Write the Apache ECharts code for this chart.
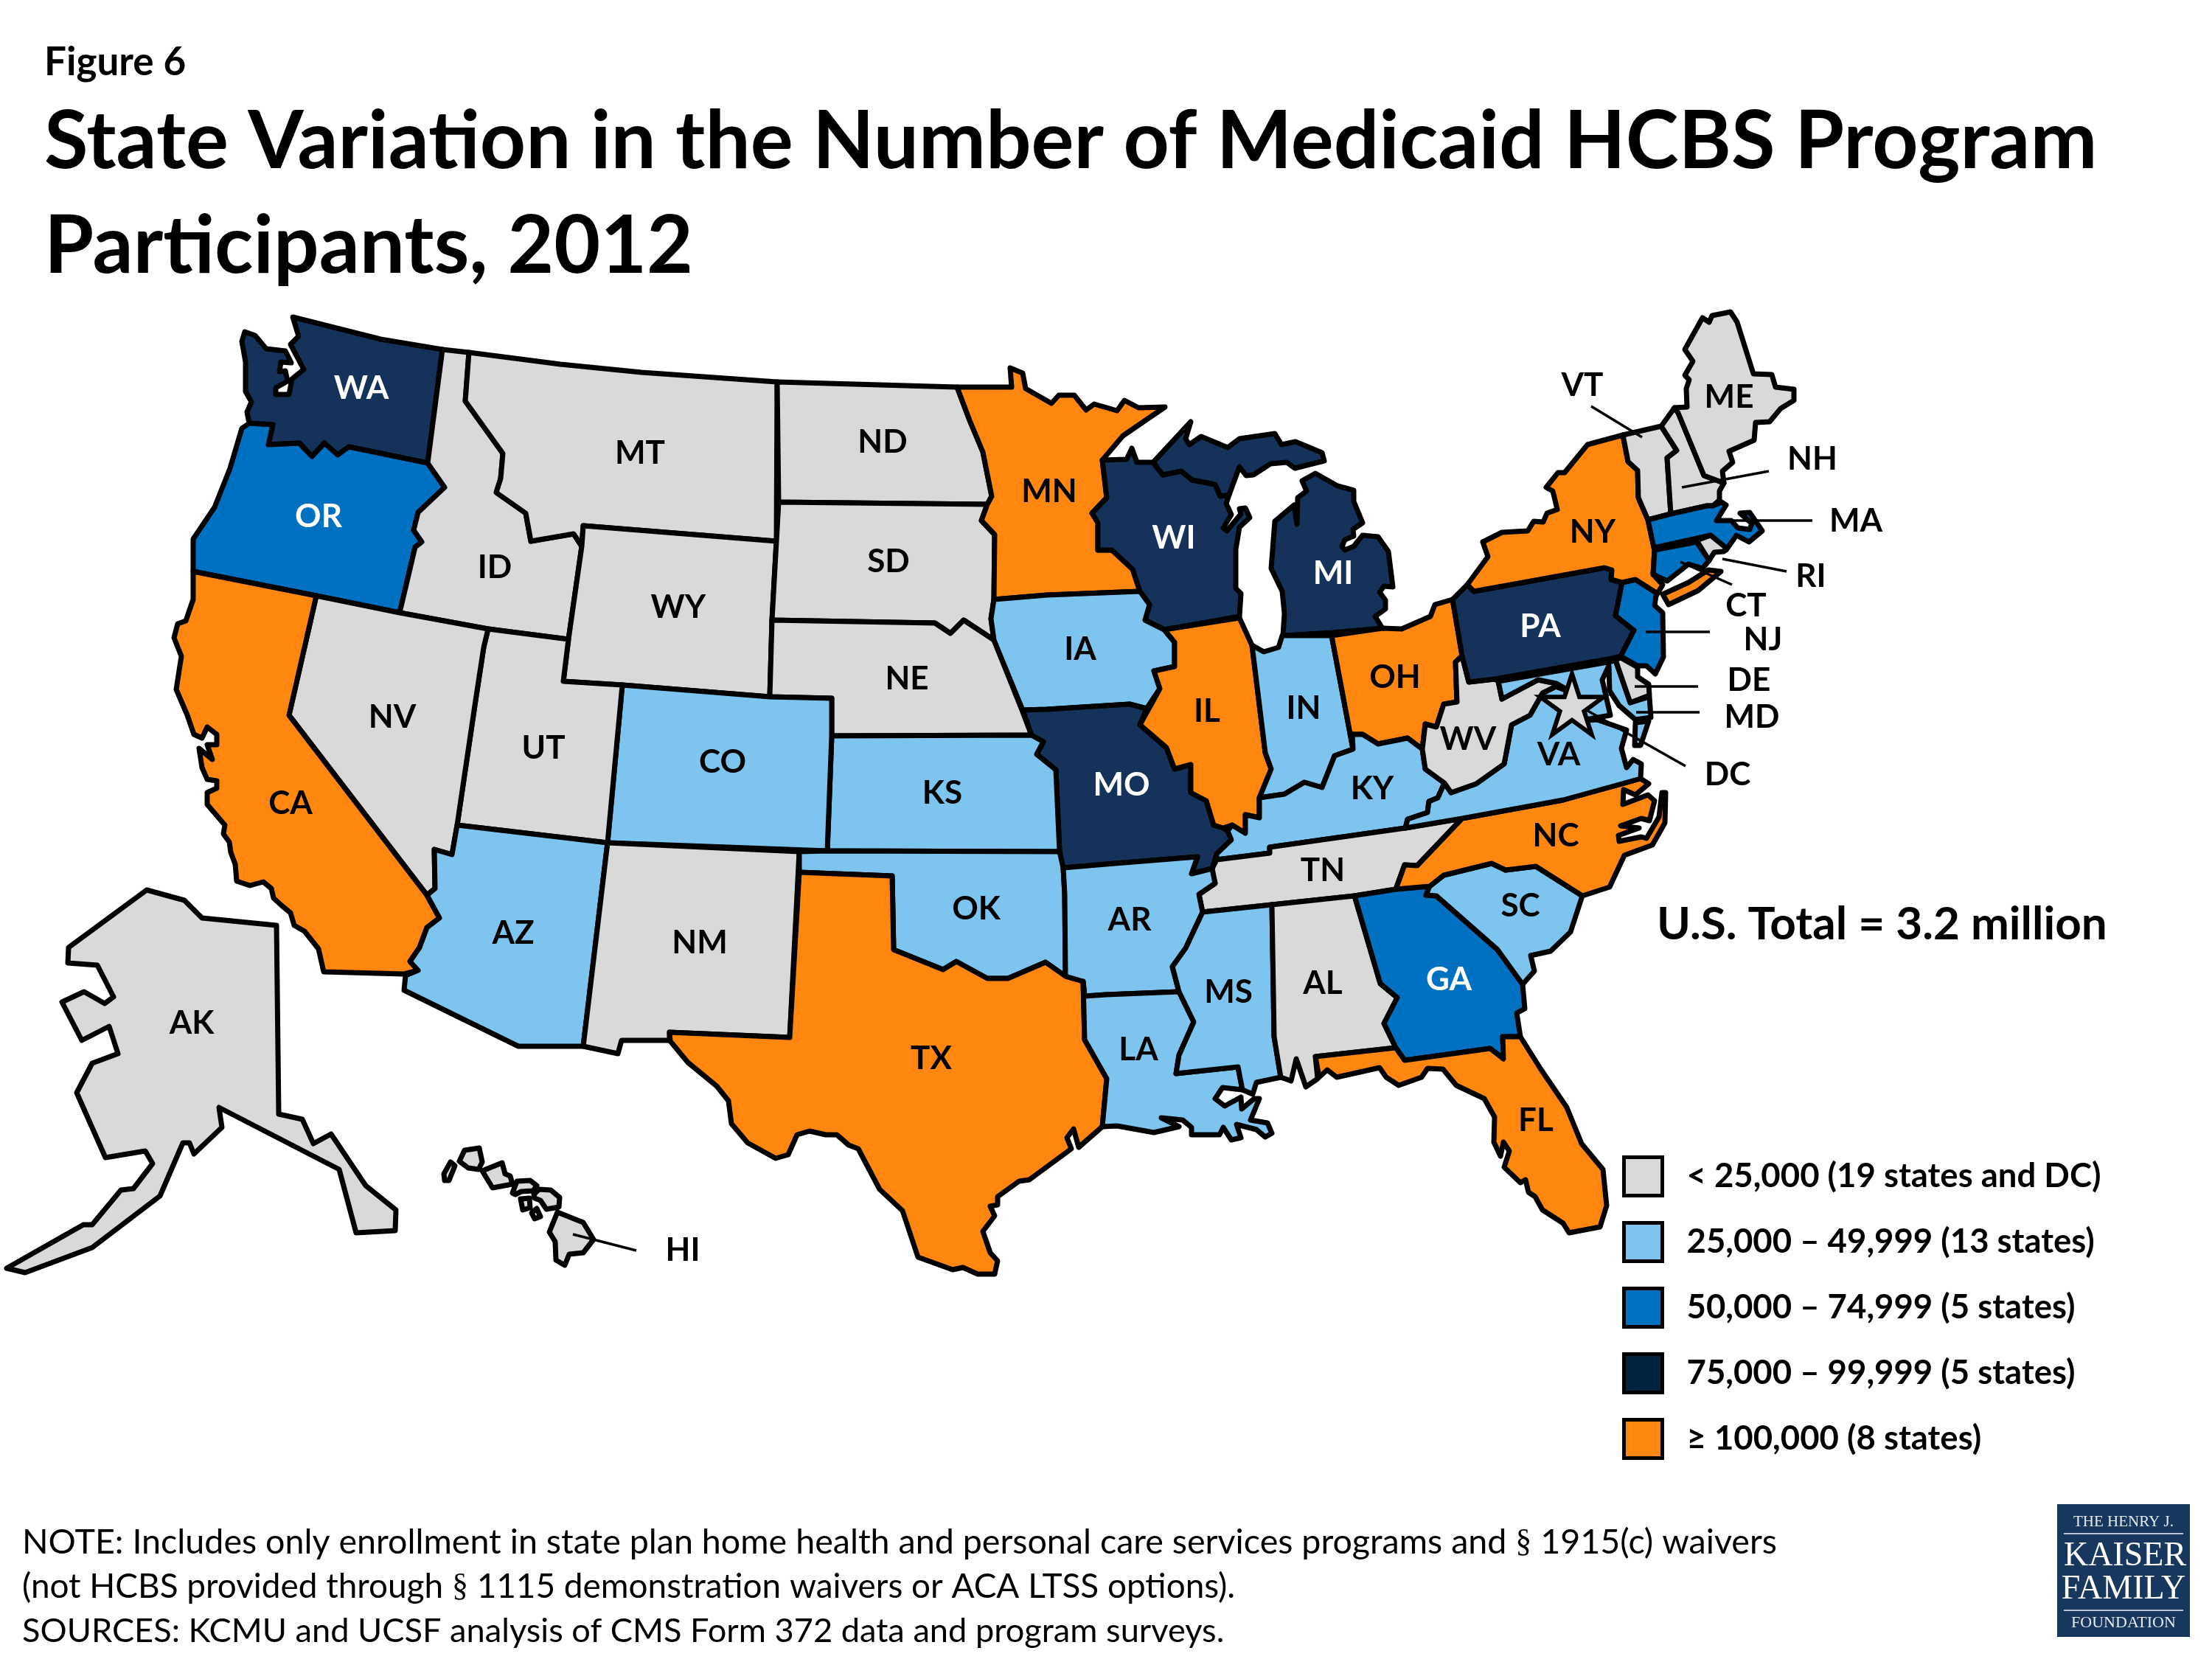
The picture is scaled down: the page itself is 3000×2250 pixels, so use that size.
<!DOCTYPE html>
<html>
<head>
<meta charset="utf-8">
<title>State Variation in the Number of Medicaid HCBS Program Participants, 2012</title>
<script src="https://cdn.jsdelivr.net/npm/echarts@6/dist/echarts.min.js"></script>
<style>
    html, body { margin: 0; padding: 0; background: #fff; }
    #hcbs_map { width: 3000px; height: 2250px; }
</style>
</head>
<body>
<div id="hcbs_map"></div>
<script>

// Data
// ------------------------------

var binNames = [
    '< 25,000 (19 states and DC)',
    '25,000 – 49,999 (13 states)',
    '50,000 – 74,999 (5 states)',
    '75,000 – 99,999 (5 states)',
    '≥ 100,000 (8 states)'
];
var binStates = [
    ['ID', 'MT', 'WY', 'ND', 'SD', 'NE', 'UT', 'NV', 'NM', 'TN', 'AL', 'WV', 'VT', 'NH', 'ME', 'RI', 'DE', 'AK', 'HI', 'DC'],
    ['CO', 'KS', 'OK', 'AZ', 'IA', 'AR', 'LA', 'MS', 'IN', 'KY', 'VA', 'SC', 'MD'],
    ['OR', 'GA', 'MA', 'CT', 'NJ'],
    ['WA', 'MO', 'WI', 'MI', 'PA'],
    ['CA', 'TX', 'MN', 'IL', 'OH', 'NY', 'NC', 'FL']
];
var regionColors = ['#D9D9D9', '#7DC5EE', '#0071C0', '#15335A', '#FF8710'];
var legendColors = ['#D9D9D9', '#7DC5EE', '#0071C0', '#03243F', '#FF8710'];
var labelColors = ['#000', '#000', '#fff', '#fff', '#000'];
var outsideLabels = ['MA', 'CT', 'NJ'];

var noteLines = [
    'NOTE: Includes only enrollment in state plan home health and personal care services programs and {s|§} 1915(c) waivers',
    '(not HCBS provided through {s|§} 1115 demonstration waivers or ACA LTSS options).',
    'SOURCES: KCMU and UCSF analysis of CMS Form 372 data and program surveys.'
];
var noteFontSizes = [46.6, 45.9, 45.2];


// Map geometry, in the units of the 3000 x 2250 page
// ------------------------------

var stateOutlines = {
    WA: [[[397,430],[405,456],[394,467],[412,501],[396,514],[392,535],[374,535],[374,526],[390,517],[387,503],[379,504],[381,491],[395,492],[387,476],[361,473],[346,455],[332,450],[328,463],[333,491],[333,531],[341,545],[335,559],[338,574],[370,576],[364,603],[406,601],[423,619],[440,601],[458,617],[473,606],[580,628],[600,474],[516,460]]],
    OR: [[[338,574],[328,581],[312,635],[291,688],[262,731],[262,775],[429,808],[542,831],[563,742],[572,735],[561,719],[567,695],[603,661],[580,628],[473,606],[458,617],[440,601],[423,619],[406,601],[364,603],[370,576]]],
    ID: [[[600,474],[636,478],[631,544],[682,615],[679,649],[673,668],[713,696],[720,734],[778,724],[789,741],[771,867],[662,853],[542,831],[563,742],[572,735],[561,719],[567,695],[603,661],[580,628]]],
    MT: [[[636,478],[760,494],[870,505],[1054,518],[1053,734],[791,713],[789,741],[778,724],[720,734],[713,696],[673,668],[679,649],[682,615],[631,544]]],
    WY: [[[791,713],[1053,734],[1047,841],[1044,945],[844,929],[764,924],[771,867],[789,741]]],
    ND: [[[1054,518],[1298,525],[1315,570],[1333,613],[1345,673],[1339,684],[1056,681]]],
    SD: [[[1056,681],[1339,684],[1331,706],[1349,725],[1348,813],[1344,839],[1348,868],[1307,841],[1289,859],[1268,845],[1047,841],[1053,734]]],
    NE: [[[1047,841],[1268,845],[1289,859],[1307,841],[1348,868],[1386,963],[1399,997],[1128,998],[1128,947],[1044,945]]],
    MN: [[[1298,525],[1372,525],[1370,499],[1387,506],[1391,527],[1426,547],[1436,536],[1457,536],[1473,556],[1484,548],[1515,557],[1525,543],[1544,553],[1580,552],[1523,591],[1495,624],[1501,675],[1481,696],[1489,709],[1489,746],[1508,746],[1536,772],[1546,802],[1420,807],[1348,813],[1349,725],[1331,706],[1339,684],[1345,673],[1333,613],[1315,570]]],
    WI: [[[1495,624],[1528,623],[1535,608],[1542,627],[1564,627],[1577,644],[1602,639],[1617,651],[1648,657],[1655,673],[1667,671],[1663,683],[1670,698],[1659,716],[1664,720],[1683,697],[1681,690],[1689,689],[1695,702],[1681,715],[1676,745],[1676,798],[1683,805],[1681,836],[1579,854],[1553,841],[1559,820],[1546,802],[1536,772],[1508,746],[1489,746],[1489,709],[1481,696],[1501,675]]],
    MI: [
        [[1564,627],[1615,572],[1608,595],[1613,603],[1629,592],[1665,607],[1681,595],[1729,588],[1738,603],[1757,599],[1793,614],[1796,625],[1756,635],[1745,627],[1723,629],[1700,644],[1690,645],[1681,633],[1667,671],[1655,673],[1648,657],[1617,651],[1602,639],[1577,644]],
        [[1784,642],[1814,659],[1836,665],[1836,680],[1848,709],[1835,718],[1836,727],[1824,732],[1820,741],[1824,746],[1836,741],[1848,726],[1869,728],[1883,748],[1889,796],[1877,795],[1871,803],[1879,814],[1879,826],[1865,836],[1875,852],[1806,858],[1740,862],[1742,832],[1739,802],[1724,771],[1729,707],[1755,685],[1759,711],[1760,675],[1772,666],[1766,652]]
    ],
    IA: [[[1348,813],[1420,807],[1546,802],[1559,820],[1553,841],[1579,854],[1593,871],[1593,904],[1565,910],[1573,934],[1555,961],[1532,955],[1420,962],[1387,963],[1348,868],[1344,839]]],
    MO: [[[1387,963],[1420,962],[1532,955],[1555,961],[1546,983],[1582,1014],[1593,1043],[1615,1037],[1615,1075],[1636,1086],[1646,1119],[1659,1123],[1665,1127],[1670,1139],[1650,1158],[1644,1178],[1616,1185],[1624,1162],[1500,1172],[1442,1177],[1437,1155],[1432,1044],[1406,1023],[1415,1006],[1399,997]]],
    IL: [[[1681,838],[1697,873],[1698,875],[1716,1021],[1724,1043],[1708,1082],[1708,1109],[1689,1105],[1689,1130],[1671,1119],[1659,1123],[1646,1119],[1636,1086],[1615,1075],[1615,1037],[1593,1043],[1582,1014],[1546,983],[1573,934],[1565,910],[1593,904],[1593,871],[1579,854]]],
    IN: [[[1739,862],[1734,878],[1714,884],[1698,875],[1716,1021],[1724,1043],[1708,1082],[1742,1077],[1769,1061],[1793,1068],[1810,1025],[1835,1016],[1806,862]]],
    OH: [[[1806,862],[1875,852],[1901,853],[1940,836],[1946,820],[1970,813],[1983,889],[1974,898],[1976,952],[1958,955],[1948,986],[1933,982],[1929,1016],[1909,1001],[1869,1009],[1848,996],[1834,996],[1835,1016]]],
    KY: [[[1708,1082],[1742,1077],[1769,1061],[1793,1068],[1810,1025],[1835,1016],[1834,996],[1848,996],[1869,1009],[1909,1001],[1929,1016],[1933,1043],[1959,1062],[1950,1082],[1938,1087],[1936,1102],[1909,1111],[1906,1123],[1722,1149],[1722,1157],[1650,1166],[1650,1158],[1670,1139],[1665,1127],[1671,1119],[1689,1130],[1689,1105],[1708,1109]]],
    TN: [[[1650,1166],[1722,1157],[1722,1149],[1906,1123],[1983,1110],[1922,1174],[1905,1173],[1893,1206],[1837,1215],[1725,1227],[1631,1237],[1626,1213],[1648,1198],[1643,1180]]],
    KS: [[[1128,998],[1399,997],[1415,1006],[1406,1023],[1432,1044],[1437,1155],[1122,1154]]],
    CO: [[[844,929],[1044,945],[1128,947],[1128,998],[1122,1154],[824,1143]]],
    UT: [[[662,853],[771,867],[764,924],[844,929],[824,1143],[620,1119],[645,950],[656,878]]],
    NV: [[[429,808],[542,831],[662,853],[656,878],[645,950],[620,1119],[613,1159],[589,1152],[590,1205],[579,1214],[392,970]]],
    CA: [[[262,775],[429,808],[392,970],[579,1214],[596,1245],[579,1258],[569,1285],[556,1304],[567,1316],[548,1321],[439,1318],[432,1287],[413,1263],[399,1255],[394,1238],[383,1229],[371,1218],[368,1205],[357,1196],[339,1201],[321,1195],[319,1172],[313,1156],[311,1142],[303,1131],[305,1119],[281,1091],[281,1075],[294,1069],[294,1059],[281,1057],[274,1041],[270,1015],[288,1030],[281,1010],[294,1010],[294,996],[281,986],[274,1001],[263,996],[254,970],[239,935],[246,890],[236,865],[241,846],[252,842],[262,813]]],
    AZ: [[[620,1119],[824,1143],[791,1419],[703,1419],[548,1343],[550,1323],[567,1316],[556,1304],[569,1285],[579,1258],[596,1245],[579,1214],[590,1205],[589,1152],[613,1159]]],
    NM: [[[824,1143],[1084,1155],[1071,1407],[908,1400],[908,1411],[843,1411],[838,1429],[791,1419]]],
    OK: [[[1084,1155],[1122,1154],[1437,1155],[1442,1177],[1444,1213],[1445,1324],[1418,1305],[1367,1327],[1339,1327],[1297,1304],[1279,1315],[1212,1288],[1210,1188],[1084,1183]]],
    TX: [[[1084,1183],[1210,1188],[1212,1288],[1279,1315],[1297,1304],[1339,1327],[1367,1327],[1418,1305],[1445,1324],[1469,1331],[1471,1410],[1501,1463],[1495,1528],[1463,1556],[1456,1531],[1447,1543],[1453,1558],[1396,1600],[1382,1602],[1353,1623],[1353,1634],[1343,1636],[1349,1649],[1333,1670],[1343,1699],[1353,1710],[1349,1728],[1326,1728],[1306,1719],[1292,1722],[1245,1705],[1224,1642],[1193,1613],[1164,1558],[1151,1553],[1135,1539],[1120,1539],[1098,1534],[1081,1539],[1069,1566],[1052,1571],[1014,1550],[992,1524],[988,1493],[972,1473],[933,1441],[909,1412],[908,1400],[1071,1407]]],
    AR: [[[1442,1177],[1500,1172],[1624,1162],[1616,1185],[1644,1178],[1648,1198],[1626,1213],[1631,1237],[1608,1286],[1590,1311],[1599,1345],[1500,1349],[1471,1351],[1469,1331],[1445,1324],[1444,1213]]],
    LA: [[[1471,1351],[1500,1349],[1599,1345],[1619,1386],[1599,1431],[1595,1456],[1679,1447],[1685,1478],[1658,1475],[1648,1490],[1661,1500],[1683,1488],[1684,1504],[1701,1490],[1708,1490],[1696,1519],[1719,1523],[1725,1537],[1716,1542],[1704,1532],[1677,1525],[1683,1543],[1670,1546],[1659,1529],[1654,1539],[1616,1539],[1616,1529],[1604,1519],[1575,1516],[1599,1528],[1565,1536],[1515,1527],[1495,1528],[1501,1463],[1471,1410],[1469,1331]]],
    MS: [[[1631,1237],[1725,1227],[1728,1406],[1737,1461],[1704,1468],[1699,1484],[1685,1478],[1679,1447],[1595,1456],[1599,1431],[1619,1386],[1599,1345],[1590,1311],[1608,1286]]],
    AL: [[[1725,1227],[1837,1215],[1872,1334],[1895,1353],[1877,1388],[1893,1421],[1784,1433],[1787,1463],[1771,1474],[1758,1436],[1751,1466],[1737,1461],[1728,1406]]],
    GA: [[[1837,1215],[1893,1206],[1939,1202],[1934,1214],[1948,1215],[2031,1288],[2065,1335],[2068,1368],[2057,1374],[2062,1406],[2038,1406],[2039,1436],[2021,1422],[1905,1438],[1893,1421],[1877,1388],[1895,1353],[1872,1334]]],
    FL: [[[1784,1433],[1893,1421],[1905,1438],[2021,1422],[2039,1436],[2038,1406],[2062,1406],[2089,1449],[2125,1502],[2145,1551],[2174,1586],[2179,1635],[2170,1664],[2128,1672],[2120,1659],[2092,1641],[2082,1623],[2073,1617],[2069,1600],[2062,1604],[2040,1583],[2047,1561],[2039,1549],[2035,1568],[2026,1549],[2027,1515],[2013,1490],[1975,1472],[1957,1450],[1936,1449],[1928,1461],[1897,1472],[1880,1461],[1871,1448],[1813,1461],[1800,1451],[1789,1461]]],
    SC: [[[1939,1202],[1958,1187],[2023,1171],[2042,1180],[2083,1175],[2146,1215],[2130,1264],[2103,1290],[2076,1296],[2081,1317],[2065,1335],[2031,1288],[1948,1215],[1934,1214]]],
    NC: [[[1983,1110],[2120,1085],[2225,1056],[2236,1063],[2218,1078],[2202,1071],[2201,1091],[2235,1078],[2244,1086],[2237,1113],[2226,1110],[2198,1120],[2223,1123],[2195,1133],[2196,1141],[2226,1135],[2233,1137],[2250,1108],[2254,1075],[2259,1075],[2258,1116],[2241,1146],[2203,1160],[2183,1203],[2146,1215],[2083,1175],[2042,1180],[2023,1171],[1958,1187],[1939,1202],[1893,1206],[1905,1173],[1922,1174]]],
    VA: [
        [[2092,940],[2075,970],[2050,983],[2040,1036],[2002,1063],[1968,1075],[1959,1062],[1950,1082],[1938,1087],[1936,1102],[1909,1111],[1906,1123],[1983,1110],[2120,1085],[2225,1056],[2226,1036],[2215,1030],[2206,1041],[2199,1015],[2206,990],[2166,976],[2140,978],[2125,937],[2110,931]],
        [[2218,980],[2236,978],[2225,1011],[2217,1011]]
    ],
    WV: [[[1983,890],[1992,925],[2027,921],[2032,924],[2037,948],[2086,922],[2111,927],[2125,935],[2110,931],[2092,940],[2075,970],[2050,983],[2040,1036],[2002,1063],[1968,1075],[1959,1062],[1933,1043],[1929,1016],[1933,982],[1948,986],[1958,955],[1976,952],[1974,898]]],
    MD: [[[2032,924],[2186,897],[2191,895],[2211,953],[2237,945],[2239,973],[2218,976],[2196,957],[2183,937],[2182,903],[2173,922],[2184,970],[2140,978],[2125,935],[2111,927],[2086,922],[2037,948]]],
    DE: [[[2198,892],[2221,905],[2221,918],[2236,928],[2237,943],[2211,953],[2191,895]]],
    PA: [[[1990,793],[1999,802],[2176,770],[2186,773],[2185,786],[2200,790],[2191,835],[2216,855],[2198,890],[2186,893],[2027,921],[1992,925],[1983,890],[1970,813]]],
    NJ: [[[2200,790],[2218,786],[2248,805],[2246,808],[2244,821],[2255,831],[2256,891],[2245,914],[2233,903],[2221,903],[2198,890],[2216,855],[2191,835]]],
    NY: [
        [[1990,793],[1999,802],[2176,770],[2186,773],[2185,786],[2200,790],[2218,786],[2248,805],[2255,793],[2242,779],[2244,746],[2235,705],[2222,675],[2221,638],[2208,626],[2201,590],[2153,603],[2122,641],[2113,641],[2097,661],[2106,666],[2112,691],[2098,696],[2093,708],[2080,707],[2072,720],[2037,722],[2011,735],[2018,755]],
        [[2255,806],[2290,790],[2317,773],[2334,775],[2303,801],[2263,820]]
    ],
    VT: [[[2201,590],[2253,578],[2274,611],[2261,621],[2266,697],[2235,705],[2222,675],[2221,638],[2208,626]]],
    NH: [[[2253,578],[2271,553],[2276,560],[2311,645],[2338,655],[2332,666],[2332,678],[2323,686],[2315,686],[2266,697],[2261,621],[2274,611]]],
    ME: [[[2276,560],[2271,553],[2288,552],[2287,527],[2291,515],[2285,509],[2296,490],[2285,474],[2309,431],[2318,437],[2322,428],[2347,423],[2356,437],[2378,507],[2403,508],[2408,525],[2433,528],[2433,543],[2415,554],[2400,572],[2381,573],[2379,597],[2345,612],[2350,627],[2336,639],[2338,655],[2311,645]]],
    MA: [[[2235,705],[2266,697],[2315,686],[2323,686],[2335,681],[2341,685],[2328,706],[2348,706],[2357,716],[2373,718],[2376,710],[2360,696],[2373,695],[2390,720],[2372,735],[2355,726],[2341,746],[2320,726],[2243,743]]],
    CT: [[[2244,746],[2301,735],[2318,760],[2309,771],[2290,765],[2261,788],[2242,779]]],
    RI: [[[2301,733],[2320,726],[2341,743],[2338,748],[2325,749],[2318,760]]],
    AK: [[[199,1207],[250,1221],[274,1245],[375,1255],[378,1511],[410,1518],[425,1551],[449,1538],[496,1608],[537,1641],[536,1669],[483,1672],[460,1586],[297,1502],[301,1529],[263,1565],[257,1550],[248,1550],[217,1622],[125,1692],[34,1726],[9,1720],[113,1661],[125,1661],[164,1614],[181,1612],[207,1578],[197,1561],[143,1570],[104,1482],[125,1442],[160,1429],[148,1392],[111,1411],[84,1359],[114,1345],[142,1361],[154,1352],[132,1309],[92,1306],[93,1285]]],
    HI: [
        [[603,1601],[602,1592],[611,1576],[617,1581],[609,1601]],
        [[630,1560],[650,1557],[654,1576],[649,1586],[635,1584],[623,1575]],
        [[654,1588],[681,1577],[685,1592],[692,1595],[695,1606],[668,1611]],
        [[701,1602],[719,1601],[728,1608],[723,1615],[707,1616],[699,1620],[695,1618]],
        [[724,1620],[731,1613],[747,1614],[759,1624],[758,1637],[741,1640],[733,1628],[725,1625]],
        [[706,1626],[718,1625],[719,1638],[709,1641]],
        [[728,1639],[733,1650],[725,1653],[721,1645]],
        [[756,1644],[791,1658],[805,1681],[791,1699],[772,1701],[766,1716],[754,1709],[753,1684],[745,1671]]
    ]
};

var labelAnchors = {
    WA: [490,524], OR: [432,698], ID: [671,767], MT: [868,612], ND: [1197,597], SD: [1205,759],
    NE: [1230,918], WY: [920,821], NV: [532,970], UT: [737,1012], CO: [980,1031], CA: [394,1087],
    AZ: [696,1263], NM: [949,1276], KS: [1278,1073], OK: [1324,1230], TX: [1263,1433], MN: [1423,664],
    IA: [1465,878], MO: [1521,1062], AR: [1532,1245], LA: [1544,1421], WI: [1592,727], IL: [1637,962],
    IN: [1768,958], MI: [1808,775], OH: [1892,916], KY: [1861,1067], TN: [1794,1178], MS: [1666,1343],
    AL: [1794,1331], GA: [1965,1326], FL: [2083,1517], SC: [2062,1226], NC: [2110,1131], VA: [2114,1021],
    WV: [1991,1000], PA: [2089,847], NY: [2160,719], ME: [2345,536], VT: [2146,520], NH: [2458,620],
    MA: [2517,704], RI: [2456,779], CT: [2368,819], NJ: [2391,865], DE: [2372,920], MD: [2376,970],
    DC: [2343,1048], HI: [926,1693], AK: [260,1385]
};

var leaderLines = [
    [[2158,551],[2227,593]], [[2399,639],[2281,661]], [[2328,706],[2458,706]], [[2336,758],[2423,775]],
    [[2279,762],[2349,793]], [[2232,857],[2319,857]], [[2217,931],[2303,931]], [[2219,966],[2305,966]],
    [[2148,961],[2286,1039]], [[777,1674],[863,1696]]
];
var dcStarPoint = [2132,955];


// Build map
// ------------------------------

var usFeatures = Object.keys(stateOutlines).map(function(code) {
    return {
        type: 'Feature',
        properties: { name: code },
        geometry: {
            type: 'MultiPolygon',
            coordinates: stateOutlines[code].map(function(ring) { return [ring]; })
        }
    };
});
echarts.registerMap('usStates', { type: 'FeatureCollection', features: usFeatures });

var mapRegions = [];
binStates.forEach(function(states, bin) {
    states.forEach(function(code) {
        if (stateOutlines[code]) {
            mapRegions.push({ name: code, itemStyle: { areaColor: regionColors[bin] } });
        }
    });
});

// One series per bin: carries the legend entry and the state labels
var binSeries = binNames.map(function(name, bin) {
    return {
        name: name,
        type: 'scatter',
        coordinateSystem: 'geo',
        symbolSize: 0,
        silent: true,
        z: 5,
        itemStyle: { color: legendColors[bin], opacity: 1 },
        label: {
            show: true,
            position: 'inside',
            offset: [0, 3],
            formatter: '{b}',
            color: labelColors[bin],
            opacity: 1,
            fontFamily: 'Lato',
            fontWeight: 'bold',
            fontSize: 44
        },
        data: binStates[bin].map(function(code) {
            var item = { name: code, value: labelAnchors[code] };
            if (outsideLabels.indexOf(code) >= 0) {
                item.label = { color: '#000' };
            }
            return item;
        })
    };
});

// Each note line is its own title so the widths can be matched
var noteTitles = noteLines.map(function(line, i) {
    return {
        text: line,
        left: 25, top: 2057 + i * 60,
        textStyle: {
            fontFamily: 'Lato', fontWeight: 'normal', fontSize: noteFontSizes[i], lineHeight: 60, color: '#000',
            rich: { s: { fontFamily: 'Liberation Serif', fontSize: 44, lineHeight: 60, color: '#000' } }
        }
    };
});


// Chart
// ------------------------------

var hcbs_map = echarts.init(document.getElementById('hcbs_map'));

hcbs_map.setOption({
    backgroundColor: '#fff',
    animation: false,

    title: [
        {
            text: 'Figure 6',
            left: 55, top: 53,
            textStyle: { fontFamily: 'Lato', fontWeight: 'bold', fontSize: 53, color: '#000' }
        },
        {
            text: 'State Variation in the Number of Medicaid HCBS Program\nParticipants, 2012',
            left: 55, top: 117,
            textStyle: { fontFamily: 'Lato', fontWeight: 'bold', fontSize: 108.6, lineHeight: 142, color: '#000' }
        },
        {
            text: 'U.S. Total = 3.2 million',
            left: 2242, top: 1218,
            textStyle: { fontFamily: 'Lato', fontWeight: 'bold', fontSize: 62, color: '#000' }
        }
    ].concat(noteTitles),

    legend: {
        data: binNames,
        orient: 'vertical',
        left: 2195, top: 1562,
        icon: 'rect',
        itemWidth: 52,
        itemHeight: 52,
        itemGap: 32,
        selectedMode: false,
        itemStyle: { borderColor: '#000', borderWidth: 5 },
        textStyle: {
            fontFamily: 'Lato', fontWeight: 'bold', fontSize: 45.5, color: '#000',
            padding: [0, 0, 0, 28]
        }
    },

    geo: {
        map: 'usStates',
        projection: {
            project: function(point) { return [point[0], point[1]]; },
            unproject: function(point) { return [point[0], point[1]]; }
        },
        boundingCoords: [[0, 0], [3000, 2250]],
        left: 0, top: 0, width: 3000, height: 2250,
        aspectScale: 1,
        roam: false,
        silent: true,
        label: { show: false },
        itemStyle: { borderColor: '#000', borderWidth: 7, borderJoin: 'round', areaColor: '#D9D9D9' },
        regions: mapRegions
    },

    series: binSeries.concat([
        {
            name: 'Leaders',
            type: 'lines',
            coordinateSystem: 'geo',
            silent: true,
            z: 3,
            lineStyle: { color: '#000', width: 3.5, opacity: 1, curveness: 0 },
            data: leaderLines.map(function(line) { return { coords: line }; })
        },
        {
            name: 'DC',
            type: 'scatter',
            coordinateSystem: 'geo',
            silent: true,
            z: 4,
            symbol: 'path://M50 0 L61.8 36.3 L100 36.3 L69.1 58.8 L80.9 95.1 L50 72.6 L19.1 95.1 L30.9 58.8 L0 36.3 L38.2 36.3 Z',
            symbolSize: [86, 82],
            itemStyle: { color: '#D9D9D9', borderColor: '#000', borderWidth: 6, opacity: 1 },
            data: [dcStarPoint]
        }
    ]),

    // Kaiser logo block
    graphic: [
        {
            type: 'group',
            left: 2790, top: 2040,
            children: [
                { type: 'rect', shape: { x: 0, y: 0, width: 180, height: 180 }, style: { fill: '#17375E' } },
                { type: 'text', style: { text: 'THE HENRY J.', x: 90, y: 24, align: 'center', verticalAlign: 'middle', fill: '#E4E9EF', font: '21px "Liberation Serif"' } },
                { type: 'rect', shape: { x: 9, y: 39, width: 162, height: 2 }, style: { fill: '#B9C4D2' } },
                { type: 'text', style: { text: 'KAISER', x: 92, y: 71, align: 'center', verticalAlign: 'middle', fill: '#fff', font: '46px "Liberation Serif"' } },
                { type: 'text', style: { text: 'FAMILY', x: 90, y: 116, align: 'center', verticalAlign: 'middle', fill: '#fff', font: '46px "Liberation Serif"' } },
                { type: 'rect', shape: { x: 9, y: 143, width: 162, height: 2 }, style: { fill: '#B9C4D2' } },
                { type: 'text', style: { text: 'FOUNDATION', x: 90, y: 161, align: 'center', verticalAlign: 'middle', fill: '#E4E9EF', font: '22px "Liberation Serif"' } }
            ]
        }
    ]
});

</script>
</body>
</html>
